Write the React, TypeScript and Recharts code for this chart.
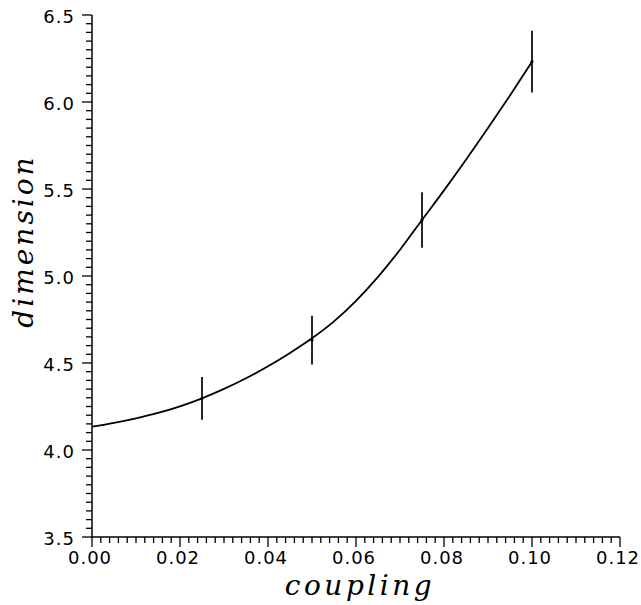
import React from 'react';
import { ComposedChart, Line, Scatter, XAxis, YAxis, ErrorBar, Label } from 'recharts';

// Fitted curve
const couplingCurve = [0, 0.005, 0.01, 0.015, 0.02, 0.025, 0.03, 0.035, 0.04, 0.045, 0.05, 0.055, 0.06, 0.065, 0.07, 0.075, 0.08, 0.085, 0.09, 0.095, 0.1];
const dimensionCurve = [4.134, 4.156, 4.182, 4.213, 4.251, 4.297, 4.351, 4.412, 4.481, 4.558, 4.642, 4.739, 4.857, 4.995, 5.151, 5.322, 5.492, 5.668, 5.85, 6.038, 6.232];

// Measured points with error bars
const couplingPoints = [0.025, 0.05, 0.075, 0.1];
const dimensionPoints = [4.297, 4.632, 5.322, 6.232];
const dimensionErrors = [0.123, 0.14, 0.16, 0.178];

// Axis ticks
const xMajorTicks = [0, 0.02, 0.04, 0.06, 0.08, 0.1, 0.12];
const yMajorTicks = [3.5, 4.0, 4.5, 5.0, 5.5, 6.0, 6.5];
const xAllTicks = Array.from({ length: 61 }, (_, i) => +(i * 0.002).toFixed(3));
const yAllTicks = Array.from({ length: 61 }, (_, i) => +(3.5 + i * 0.05).toFixed(2));

const curveData = couplingCurve.map((x, i) => ({ x, y: dimensionCurve[i] }));
const pointData = couplingPoints.map((x, i) => ({ x, y: dimensionPoints[i], err: dimensionErrors[i] }));

const isMajor = (list: number[], v: number) => list.some((m) => Math.abs(m - v) < 1e-9);

const TICK_FONT = "'DejaVu Sans', sans-serif";
const TITLE_FONT = "'DejaVu Serif', serif";

const XTick = (props: any) => {
  const { x, y, payload } = props;
  const v = payload.value;
  const major = isMajor(xMajorTicks, v);
  const len = major ? 10 : 6;
  return (
    <g>
      <line x1={x} y1={y} x2={x} y2={y + len} stroke="#000" strokeWidth={1.3} />
      {major && (
        <text x={x - 2} y={y + 27} textAnchor="middle" fontFamily={TICK_FONT} fontSize={18} style={{ letterSpacing: '1px' }} fill="#000">
          {v.toFixed(2)}
        </text>
      )}
    </g>
  );
};

const YTick = (props: any) => {
  const { x, y, payload } = props;
  const v = payload.value;
  const major = isMajor(yMajorTicks, v);
  const len = major ? 10 : 6;
  return (
    <g>
      <line x1={x} y1={y} x2={x - len} y2={y} stroke="#000" strokeWidth={1.3} />
      {major && (
        <text x={x - 17} y={y + 8} textAnchor="end" fontFamily={TICK_FONT} fontSize={18} style={{ letterSpacing: '1px' }} fill="#000">
          {v.toFixed(1)}
        </text>
      )}
    </g>
  );
};

const XTitle = (props: any) => {
  const vb = props.viewBox || { x: 92, y: 537, width: 528, height: 68 };
  return (
    <text
      x={vb.x + vb.width / 2 + 4}
      y={vb.y + vb.height - 10}
      textAnchor="middle"
      fontFamily={TITLE_FONT}
      fontStyle="italic"
      fontSize={28}
      style={{ letterSpacing: '3.5px' }}
      fill="#000"
    >
      coupling
    </text>
  );
};

const YTitle = (props: any) => {
  const vb = props.viewBox || { x: 0, y: 15, width: 92, height: 522 };
  const cx = vb.x + 33;
  const cy = vb.y + 226;
  return (
    <text
      x={cx}
      y={cy}
      transform={`rotate(-90, ${cx}, ${cy})`}
      textAnchor="middle"
      fontFamily={TITLE_FONT}
      fontStyle="italic"
      fontSize={28}
      style={{ letterSpacing: '3px' }}
      fill="#000"
    >
      dimension
    </text>
  );
};

const Dot = (props: any) => {
  const { cx, cy } = props;
  return <circle cx={cx} cy={cy} r={1.6} fill="#000" />;
};

export default function App() {
  return (
    <div style={{ position: 'absolute', left: 0, top: 0, background: '#fff' }}>
      <ComposedChart width={641} height={605} margin={{ top: 15, right: 21, left: 0, bottom: 0 }}>
        <XAxis
          dataKey="x"
          type="number"
          domain={[0, 0.12]}
          ticks={xAllTicks}
          interval={0}
          tickSize={0}
          tickMargin={0}
          tickLine={false}
          tick={<XTick />}
          height={68}
          axisLine={{ stroke: '#000', strokeWidth: 1.5 }}
          allowDataOverflow
        >
          <Label content={<XTitle />} />
        </XAxis>
        <YAxis
          dataKey="y"
          type="number"
          domain={[3.5, 6.5]}
          ticks={yAllTicks}
          interval={0}
          tickSize={0}
          tickMargin={0}
          tickLine={false}
          tick={<YTick />}
          width={92}
          axisLine={{ stroke: '#000', strokeWidth: 1.5 }}
          allowDataOverflow
        >
          <Label content={<YTitle />} />
        </YAxis>
        <Line
          data={curveData}
          dataKey="y"
          type="monotone"
          stroke="#000"
          strokeWidth={1.8}
          dot={false}
          activeDot={false}
          isAnimationActive={false}
        />
        <Scatter data={pointData} dataKey="y" shape={<Dot />} isAnimationActive={false}>
          <ErrorBar dataKey="err" direction="y" width={0} stroke="#000" strokeWidth={1.7} isAnimationActive={false} />
        </Scatter>
      </ComposedChart>
    </div>
  );
}
